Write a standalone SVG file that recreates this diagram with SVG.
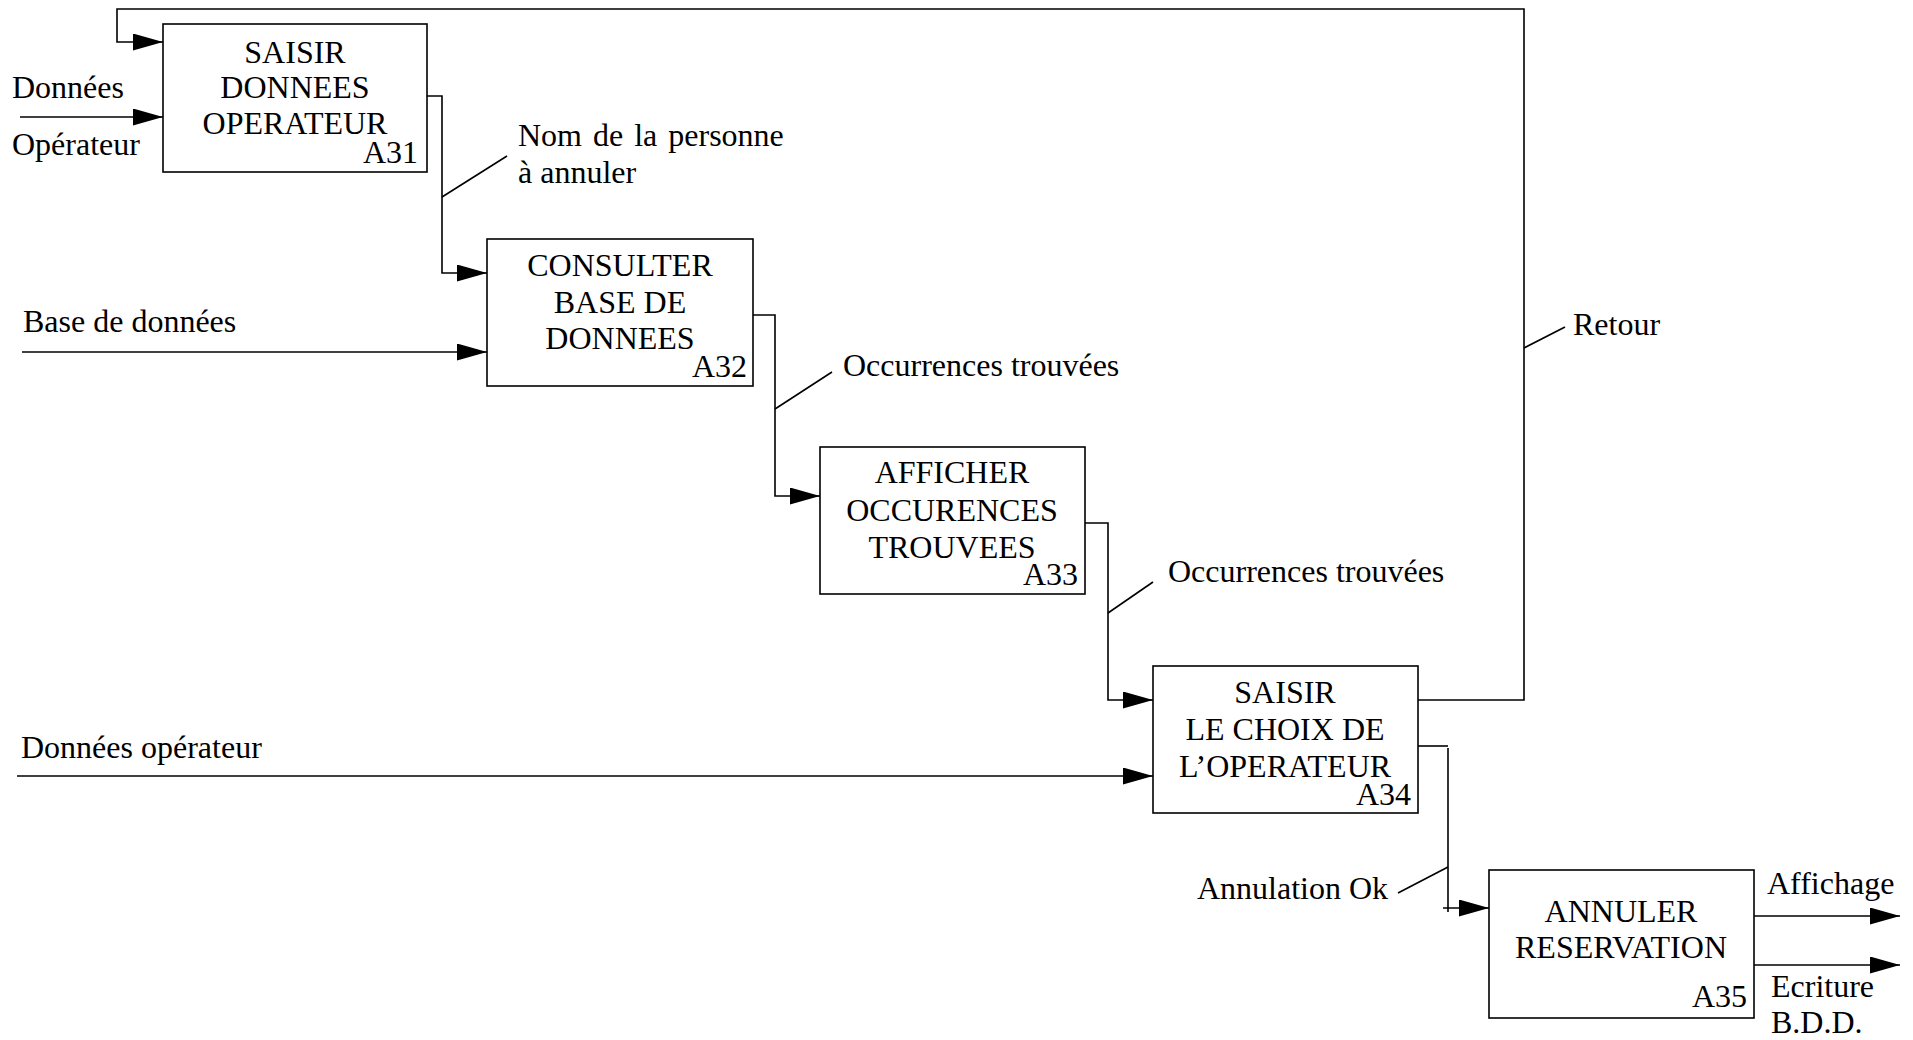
<svg xmlns="http://www.w3.org/2000/svg" width="1913" height="1040" viewBox="0 0 1913 1040">
<style>
text{font-family:"Liberation Serif","Times New Roman",serif;font-size:32px;fill:#000}
.c{text-anchor:middle}
.r{text-anchor:end}
.box{fill:#fff;stroke:#000;stroke-width:1.6}
.ln{fill:none;stroke:#000;stroke-width:1.6}
.ar{fill:none;stroke:#000;stroke-width:1.6;marker-end:url(#ah)}
</style>
<defs>
<marker id="ah" markerUnits="userSpaceOnUse" markerWidth="30" markerHeight="17" refX="30" refY="8.5" orient="auto">
<path d="M0,0 L30,8.5 L0,17 z" fill="#000"/>
</marker>
</defs>
<rect width="1913" height="1040" fill="#fff"/>
<g id="connectors">
<polyline class="ar" points="1418,700 1524,700 1524,9 117,9 117,42 163,42"/>
<line class="ar" x1="20" y1="117" x2="163" y2="117"/>
<polyline class="ar" points="427,96 442,96 442,273 487,273"/>
<line class="ln" x1="442" y1="197" x2="507" y2="156"/>
<line class="ar" x1="22" y1="352" x2="487" y2="352"/>
<polyline class="ar" points="753,315 775,315 775,496 820,496"/>
<line class="ln" x1="775" y1="409" x2="832" y2="372"/>
<polyline class="ar" points="1085,523 1108,523 1108,700 1153,700"/>
<line class="ln" x1="1108" y1="613" x2="1153" y2="582"/>
<line class="ar" x1="17" y1="776" x2="1153" y2="776"/>
<line class="ln" x1="1418" y1="746" x2="1448" y2="746"/>
<line class="ln" x1="1448" y1="748" x2="1448" y2="912"/>
<line class="ar" x1="1443" y1="908" x2="1489" y2="908"/>
<line class="ln" x1="1448" y1="867" x2="1398" y2="893"/>
<line class="ar" x1="1754" y1="916" x2="1900" y2="916"/>
<line class="ar" x1="1754" y1="965" x2="1900" y2="965"/>
<line class="ln" x1="1524" y1="348" x2="1565" y2="327"/>
<text x="12" y="98">Données</text>
<text x="12" y="155">Opérateur</text>
<text x="518" y="146" word-spacing="3">Nom de la personne</text>
<text x="518" y="183">à annuler</text>
<text x="23" y="332">Base de données</text>
<text x="843" y="376">Occurrences trouvées</text>
<text x="1168" y="582">Occurrences trouvées</text>
<text x="1573" y="335">Retour</text>
<text x="21" y="758">Données opérateur</text>
<text x="1197" y="899">Annulation Ok</text>
<text x="1767" y="894">Affichage</text>
<text x="1771" y="997">Ecriture</text>
<text x="1771" y="1033">B.D.D.</text>
</g>
<g id="A31">
<rect class="box" x="163" y="24" width="264" height="148"/>
<text class="c" x="295" y="63">SAISIR</text>
<text class="c" x="295" y="98">DONNEES</text>
<text class="c" x="295" y="134">OPERATEUR</text>
<text class="r" x="418" y="163">A31</text>
</g>
<g id="A32">
<rect class="box" x="487" y="239" width="266" height="147"/>
<text class="c" x="620" y="276">CONSULTER</text>
<text class="c" x="620" y="313">BASE DE</text>
<text class="c" x="620" y="349">DONNEES</text>
<text class="r" x="747" y="377">A32</text>
</g>
<g id="A33">
<rect class="box" x="820" y="447" width="265" height="147"/>
<text class="c" x="952" y="483">AFFICHER</text>
<text class="c" x="952" y="521">OCCURENCES</text>
<text class="c" x="952" y="558">TROUVEES</text>
<text class="r" x="1078" y="585">A33</text>
</g>
<g id="A34">
<rect class="box" x="1153" y="666" width="265" height="147"/>
<text class="c" x="1285" y="703">SAISIR</text>
<text class="c" x="1285" y="740">LE CHOIX DE</text>
<text class="c" x="1285" y="777">L’OPERATEUR</text>
<text class="r" x="1411" y="805">A34</text>
</g>
<g id="A35">
<rect class="box" x="1489" y="870" width="265" height="148"/>
<text class="c" x="1621" y="922">ANNULER</text>
<text class="c" x="1621" y="958">RESERVATION</text>
<text class="r" x="1747" y="1007">A35</text>
</g>
</svg>
